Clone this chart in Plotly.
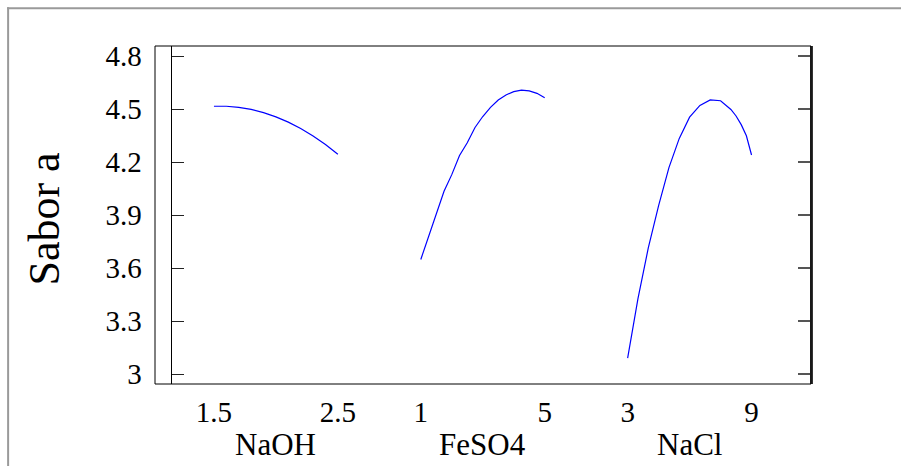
import plotly.graph_objects as go

# ---------------- data ----------------
factor_names = ["NaOH", "FeSO4", "NaCl"]
y_title = "Sabor a"

naoh_x = [1.5, 1.6, 1.7, 1.8, 1.9, 2.0, 2.1, 2.2, 2.3, 2.4, 2.5]
naoh_y = [4.517, 4.517, 4.511, 4.499, 4.481, 4.457, 4.427, 4.391, 4.348, 4.300, 4.245]

feso4_x = [1.0, 1.25, 1.5, 1.75, 2.0, 2.25, 2.5, 2.75, 3.0, 3.25, 3.5, 3.75, 4.0, 4.25, 4.5, 4.75, 5.0]
feso4_y = [3.650, 3.780, 3.910, 4.036, 4.130, 4.238, 4.310, 4.397, 4.459, 4.511, 4.552, 4.581,
           4.600, 4.608, 4.604, 4.590, 4.565]

nacl_x = [3.0, 3.5, 4.0, 4.5, 5.0, 5.5, 6.0, 6.5, 7.0, 7.5, 8.0, 8.25, 8.5, 8.75, 9.0]
nacl_y = [3.092, 3.428, 3.715, 3.955, 4.170, 4.335, 4.455, 4.522, 4.553, 4.548, 4.499, 4.462,
          4.413, 4.350, 4.241]

x_tickvals = [[1.5, 2.5], [1, 5], [3, 9]]
x_ticktext = [["1.5", "2.5"], ["1", "5"], ["3", "9"]]
y_tickvals = [3.0, 3.3, 3.6, 3.9, 4.2, 4.5, 4.8]
y_ticktext = ["3", "3.3", "3.6", "3.9", "4.2", "4.5", "4.8"]
y_range = [2.945, 4.858]

# ---------------- layout geometry ----------------
W_FIG, H_FIG = 901, 466
PL, PR, PT, PB = 154.5, 811.0, 46.0, 384.0
PW, PH = PR - PL, PB - PT
FIRST_LOW = 213.5
STEP = 207.0
SPAN = 124.0
PAD = 41.5

FONT = "Liberation Serif"
LINE_COLOR = "#0000ff"

series = [(naoh_x, naoh_y), (feso4_x, feso4_y), (nacl_x, nacl_y)]

fig = go.Figure()
layout_axes = {}
for i, (xs, ys) in enumerate(series):
    axname = "x" if i == 0 else f"x{i+1}"
    fig.add_trace(go.Scatter(x=xs, y=ys, xaxis=axname, yaxis="y", mode="lines",
                             line=dict(color=LINE_COLOR, width=1.2), showlegend=False,
                             hoverinfo="x+y"))
    lo, hi = x_tickvals[i]
    scale = (hi - lo) / SPAN
    low_px = FIRST_LOW + STEP * i
    d0 = (low_px - PAD - PL) / PW
    d1 = (low_px + SPAN + PAD - PL) / PW
    key = "xaxis" if i == 0 else f"xaxis{i+1}"
    layout_axes[key] = dict(
        domain=[d0, d1], range=[lo - PAD * scale, hi + PAD * scale],
        anchor="y", tickmode="array", tickvals=x_tickvals[i], ticktext=x_ticktext[i],
        ticks="", showline=False, showgrid=False, zeroline=False,
        tickfont=dict(family=FONT, size=29, color="#000"),
        ticklabelstandoff=8,
    )

fig.update_layout(**layout_axes)

fig.update_layout(
    width=W_FIG, height=H_FIG,
    margin=dict(l=PL, r=W_FIG - PR, t=PT, b=H_FIG - PB, pad=0),
    paper_bgcolor="white", plot_bgcolor="white",
    showlegend=False,
    yaxis=dict(range=y_range, tickmode="array", tickvals=y_tickvals, ticktext=y_ticktext,
               ticks="inside", ticklen=12, tickwidth=1, tickcolor="#222",
               showline=True, linecolor="#000", linewidth=1, mirror=False,
               showgrid=False, zeroline=False,
               tickfont=dict(family=FONT, size=29, color="#000"),
               ticklabelstandoff=24),
    yaxis2=dict(range=y_range, overlaying="y", side="right", anchor="free", position=1.0,
                tickmode="array", tickvals=y_tickvals, showticklabels=False,
                ticks="inside", ticklen=12, tickwidth=2, tickcolor="#555",
                showline=True, linecolor="#333", linewidth=2.5,
                showgrid=False, zeroline=False),
)

# invisible trace so the right-hand axis is drawn
fig.add_trace(go.Scatter(x=[x_tickvals[2][0]], y=[y_tickvals[0]], xaxis="x3", yaxis="y2",
                         mode="markers", marker=dict(opacity=0), showlegend=False,
                         hoverinfo="skip"))

def px_to_paper_x(px):
    return (px - PL) / PW

def py_to_paper_y(py):
    return (PB - py) / PH

shapes = [
    dict(type="rect", xref="paper", yref="paper", x0=0, x1=1, y0=0, y1=1,
         line=dict(color="#000", width=1), layer="above"),
    # outer gray frame: left edge and top edge
    dict(type="line", xref="paper", yref="paper",
         x0=px_to_paper_x(7.5), x1=px_to_paper_x(7.5), y0=py_to_paper_y(466), y1=py_to_paper_y(7.3),
         line=dict(color="#9a9a9a", width=2), layer="below"),
    dict(type="line", xref="paper", yref="paper",
         x0=px_to_paper_x(6.5), x1=px_to_paper_x(905), y0=py_to_paper_y(8.3), y1=py_to_paper_y(8.3),
         line=dict(color="#9a9a9a", width=2), layer="below"),
]
fig.update_layout(shapes=shapes)

annotations = []
for i, name in enumerate(factor_names):
    ref = "x domain" if i == 0 else f"x{i+1} domain"
    annotations.append(dict(text=name, xref=ref, yref="paper", x=0.5, y=py_to_paper_y(444),
                            xanchor="center", yanchor="middle", showarrow=False,
                            font=dict(family=FONT, size=31, color="#000")))
annotations.append(dict(text=y_title, xref="paper", yref="paper",
                        x=px_to_paper_x(43), y=py_to_paper_y(219), textangle=-90,
                        xanchor="center", yanchor="middle", showarrow=False,
                        font=dict(family=FONT, size=44, color="#000")))
fig.update_layout(annotations=annotations)

fig.write_html(
    "out.html", config={"displayModeBar": False},
    post_script=("document.documentElement.style.overflow='hidden';"
                 "document.documentElement.style.margin='0';"
                 "document.body.style.margin='0';document.body.style.overflow='hidden';"))
